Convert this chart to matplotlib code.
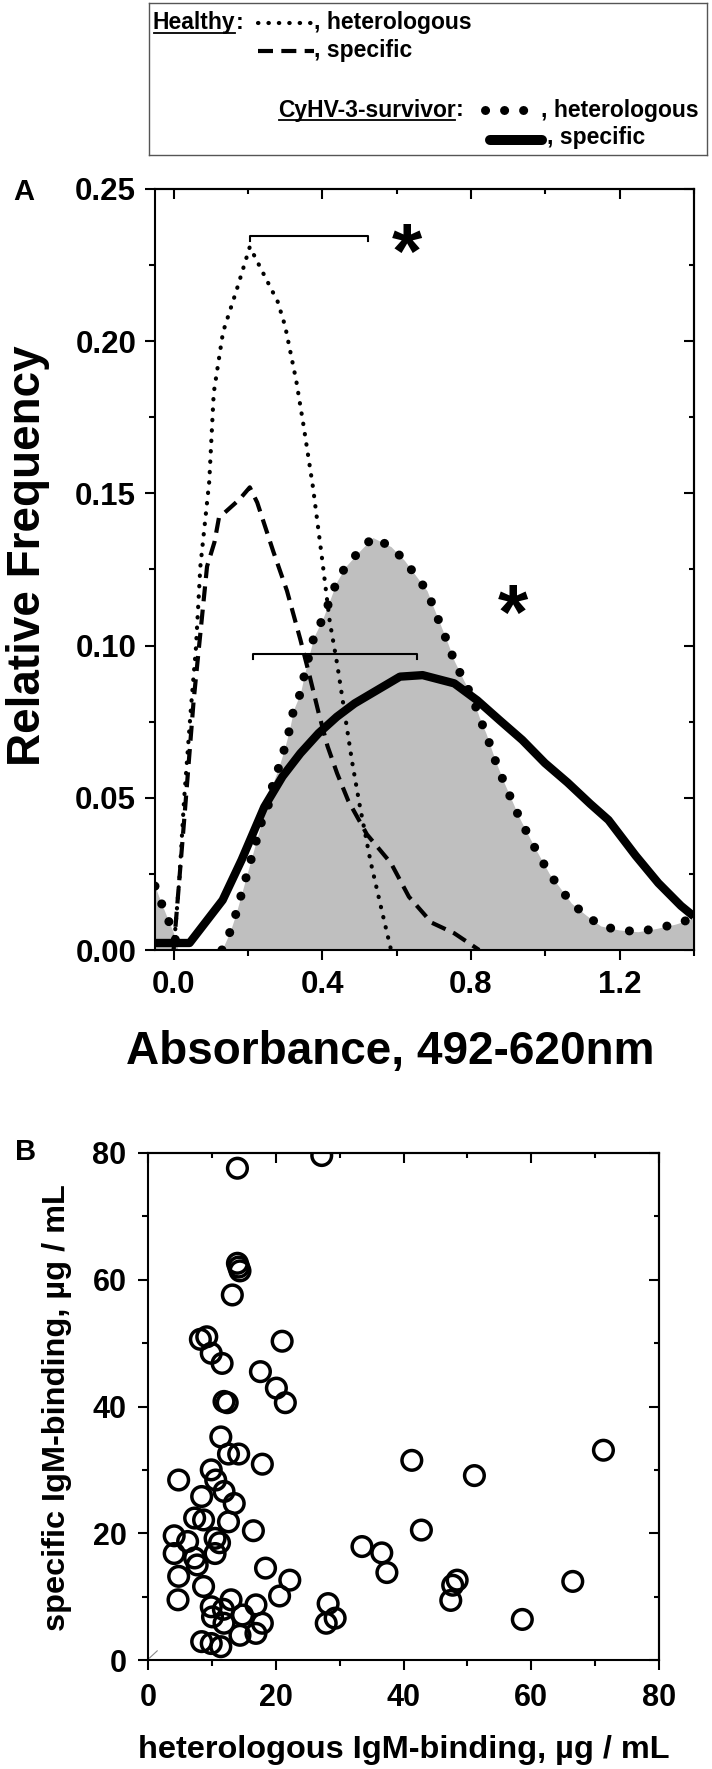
import matplotlib
matplotlib.use("Agg")
import matplotlib.pyplot as plt
from matplotlib.ticker import MultipleLocator, FormatStrFormatter, NullFormatter

plt.rcParams["font.family"] = ["Liberation Sans", "DejaVu Sans"]
plt.rcParams["font.weight"] = "bold"

# ---- panel A: relative frequency of absorbance values ----
# healthy carp, heterologous antigen (fine dotted)
healthy_het_x = [0.0, 0.016, 0.028, 0.047, 0.06, 0.072, 0.096, 0.108, 0.133, 0.17, 0.195,
                 0.205, 0.23, 0.28, 0.30, 0.33, 0.35, 0.375, 0.40, 0.42, 0.44, 0.46,
                 0.48, 0.50, 0.53, 0.56, 0.585]
healthy_het_y = [0.0, 0.024, 0.049, 0.080, 0.099, 0.126, 0.154, 0.183, 0.203, 0.217, 0.227,
                 0.231, 0.225, 0.213, 0.205, 0.187, 0.172, 0.152, 0.128, 0.108, 0.094, 0.078,
                 0.062, 0.048, 0.029, 0.013, 0.0]

# healthy carp, specific antigen (dashed)
healthy_spec_x = [0.0, 0.01, 0.03, 0.054, 0.072, 0.09, 0.11, 0.122, 0.177, 0.205, 0.225,
                  0.268, 0.305, 0.341, 0.366, 0.39, 0.414, 0.44, 0.47, 0.52, 0.585, 0.633,
                  0.694, 0.755, 0.822]
healthy_spec_y = [0.0, 0.015, 0.045, 0.082, 0.104, 0.126, 0.134, 0.142, 0.148, 0.152, 0.147,
                  0.131, 0.118, 0.102, 0.090, 0.078, 0.067, 0.058, 0.049, 0.038, 0.0285, 0.0175,
                  0.009, 0.0055, 0.0]

# CyHV-3 survivors, heterologous antigen (big dots, grey area)
surv_het_left_x = [-0.05, -0.038, -0.02, 0.0, 0.012]
surv_het_left_y = [0.021, 0.017, 0.0115, 0.0056, 0.0]
surv_het_x = [0.13, 0.152, 0.168, 0.20, 0.238, 0.256, 0.268, 0.283, 0.298, 0.311, 0.323,
              0.341, 0.353, 0.366, 0.378, 0.402, 0.439, 0.463, 0.50, 0.536, 0.585, 0.621,
              0.682, 0.701, 0.737, 0.755, 0.78, 0.804, 0.822, 0.841, 0.865, 0.889, 0.914,
              0.932, 0.97, 1.011, 1.036, 1.07, 1.109, 1.149, 1.198, 1.249, 1.30, 1.35, 1.40]
surv_het_y = [0.0, 0.006, 0.012, 0.026, 0.0427, 0.048, 0.055, 0.060, 0.066, 0.072, 0.079,
              0.0843, 0.091, 0.0975, 0.103, 0.109, 0.121, 0.126, 0.131, 0.1355, 0.1325, 0.128,
              0.118, 0.112, 0.101, 0.095, 0.0887, 0.083, 0.0766, 0.071, 0.0624, 0.055, 0.048,
              0.043, 0.034, 0.025, 0.021, 0.0154, 0.0115, 0.0079, 0.0066, 0.006, 0.0071, 0.0085,
              0.0105]

# CyHV-3 survivors, specific antigen (thick solid)
surv_spec_x = [-0.05, 0.043, 0.132, 0.183, 0.244, 0.293, 0.341, 0.39, 0.439, 0.487, 0.548,
               0.609, 0.67, 0.755, 0.817, 0.877, 0.938, 0.999, 1.06, 1.121, 1.17, 1.243,
               1.304, 1.365, 1.40]
surv_spec_y = [0.0023, 0.0023, 0.0164, 0.0296, 0.047, 0.057, 0.0646, 0.0712, 0.0766, 0.081,
               0.0854, 0.0898, 0.0903, 0.0876, 0.082, 0.0755, 0.069, 0.0614, 0.055, 0.048,
               0.0427, 0.031, 0.022, 0.0145, 0.011]

# horizontal bars (x from, x to, y) and significance stars
bar_healthy = (0.205, 0.524, 0.2345)
bar_survivor = (0.213, 0.656, 0.0972)
star_x = [0.628, 0.914]
star_y = [0.2316, 0.113]

# ---- panel B: specific vs heterologous IgM binding ----
het_igm = [14.0, 27.2, 14.0, 14.2, 14.4, 13.2, 8.2, 9.2, 9.9, 11.6, 21.0, 17.6, 20.1, 21.5,
           11.9, 12.4, 11.4, 12.6, 14.2, 17.9, 9.9, 10.6, 4.8, 41.3, 51.1, 71.3, 11.9, 13.5,
           8.4, 7.3, 8.7, 12.6, 16.5, 4.1, 6.2, 10.5, 11.2, 4.1, 7.3, 7.7, 10.5, 18.4, 4.8,
           8.7, 22.2, 20.6, 4.7, 13.0, 16.9, 9.9, 11.8, 10.1, 14.8, 17.9, 16.9, 11.9, 14.4,
           8.4, 9.9, 11.4, 28.2, 29.3, 27.9, 33.5, 36.6, 37.4, 42.8, 48.4, 47.7, 47.4, 58.6,
           66.5]
spec_igm = [77.6, 79.6, 62.6, 62.0, 61.4, 57.6, 50.6, 51.0, 48.4, 46.8, 50.3, 45.5, 42.9, 40.6,
            40.8, 40.6, 35.2, 32.5, 32.5, 30.9, 30.0, 28.4, 28.4, 31.5, 29.1, 33.1, 26.6, 24.7,
            25.8, 22.4, 22.1, 21.8, 20.4, 19.6, 18.7, 19.2, 18.5, 16.8, 16.1, 15.0, 16.8, 14.5,
            13.2, 11.6, 12.6, 10.1, 9.5, 9.5, 8.7, 8.4, 8.0, 6.8, 7.1, 5.8, 4.2, 5.8, 3.9,
            2.9, 2.6, 2.1, 8.9, 6.6, 5.8, 17.9, 16.9, 13.8, 20.5, 12.6, 11.8, 9.4, 6.4, 12.4]

W, H = 712, 1769
fig = plt.figure(figsize=(W / 100, H / 100), dpi=100)


def px_box(x0, y0, x1, y1):
    # pixel box (top-left origin) -> figure fraction rect
    return [x0 / W, 1 - y1 / H, (x1 - x0) / W, (y1 - y0) / H]


ax_a = fig.add_axes(px_box(155, 189, 694, 950))
ax_b = fig.add_axes(px_box(148, 1153, 659, 1660))
ax_leg = fig.add_axes(px_box(149, 3, 707, 155))

hh_style = dict(color="black", lw=3.0, linestyle=(0, (0.1, 2.4)), dash_capstyle="round")
hs_style = dict(color="black", lw=3.0, linestyle=(0, (3.6, 2.0)))
sh_style = dict(color="black", lw=6.5, linestyle=(0, (0.01, 2.1)), dash_capstyle="round")
ss_style = dict(color="black", lw=6.0, solid_capstyle="butt")


def style_axis(ax, xmaj, xmin, ymaj, ymin, size, xpad, ypad, majlen, minlen):
    for s in ax.spines.values():
        s.set_linewidth(1.5)
    ax.xaxis.set_major_locator(MultipleLocator(xmaj))
    ax.xaxis.set_minor_locator(MultipleLocator(xmin))
    ax.yaxis.set_major_locator(MultipleLocator(ymaj))
    ax.yaxis.set_minor_locator(MultipleLocator(ymin))
    ax.tick_params(which="both", direction="out", width=1.5, labelsize=size)
    ax.tick_params(which="major", length=majlen)
    ax.tick_params(which="minor", length=minlen)
    ax.tick_params(axis="x", pad=xpad)
    ax.tick_params(axis="y", pad=ypad)
    # mirrored ticks pointing inwards on top and right
    top = ax.secondary_xaxis("top")
    right = ax.secondary_yaxis("right")
    for sec, axis, step_maj, step_min in ((top, top.xaxis, xmaj, xmin),
                                          (right, right.yaxis, ymaj, ymin)):
        axis.set_major_locator(MultipleLocator(step_maj))
        axis.set_minor_locator(MultipleLocator(step_min))
        axis.set_major_formatter(NullFormatter())
        sec.tick_params(which="both", direction="in", width=1.5)
        sec.tick_params(which="major", length=majlen)
        sec.tick_params(which="minor", length=minlen * 0.8)
        for s in sec.spines.values():
            s.set_linewidth(1.5)


# ---- panel A ----
ax_a.fill_between(surv_het_left_x, 0, surv_het_left_y, color="#bfbfbf", lw=0, zorder=1)
ax_a.fill_between(surv_het_x, 0, surv_het_y, color="#bfbfbf", lw=0, zorder=1)
ax_a.plot(healthy_het_x, healthy_het_y, zorder=3, **hh_style)
ax_a.plot(healthy_spec_x, healthy_spec_y, zorder=3, **hs_style)
ax_a.plot(surv_spec_x, surv_spec_y, zorder=4, **ss_style)
ax_a.plot(surv_het_left_x, surv_het_left_y, zorder=5, **sh_style)
ax_a.plot(surv_het_x, surv_het_y, zorder=5, **sh_style)

cap = 0.0015
for x0, x1, y in (bar_healthy, bar_survivor):
    ax_a.plot([x0, x0, x1, x1], [y - cap, y, y, y - cap], color="black", lw=1.5, zorder=6)
for sx, sy in zip(star_x, star_y):
    ax_a.annotate("*", xy=(sx, sy), xytext=(0, -9), textcoords="offset points",
                  ha="center", va="center", fontsize=56, fontweight="bold")

ax_a.set_xlim(-0.05, 1.4)
ax_a.set_ylim(0, 0.25)
style_axis(ax_a, 0.4, 0.2, 0.05, 0.025, 22.5, 7, 6, 7.5, 4.5)
ax_a.xaxis.set_major_formatter(FormatStrFormatter("%.1f"))
ax_a.yaxis.set_major_formatter(FormatStrFormatter("%.2f"))

fig.text(390 / W, 1 - 1064 / H, "Absorbance, 492-620nm", ha="center", va="baseline",
         fontsize=33, fontweight="bold")
fig.text(6 / W, 1 - 556 / H, "Relative Frequency", rotation=90, ha="left", va="center",
         fontsize=33, fontweight="bold")
fig.text(13 / W, 1 - 200 / H, "A", ha="left", va="baseline", fontsize=21, fontweight="bold")

# ---- panel B ----
ax_b.scatter(het_igm, spec_igm, s=200, facecolors="none", edgecolors="black",
             linewidths=2.5, zorder=3)
ax_b.plot([0.003, 0.018], [0.004, 0.018], transform=ax_b.transAxes, color="#888888", lw=0.8)
ax_b.set_xlim(0, 80)
ax_b.set_ylim(0, 80)
style_axis(ax_b, 20, 10, 20, 10, 22, 9, 8, 7.5, 4.5)

fig.text(404 / W, 1 - 1758 / H, "heterologous IgM-binding, µg / mL", ha="center",
         va="baseline", fontsize=23.4, fontweight="bold")
fig.text(42 / W, 1 - 1408 / H, "specific IgM-binding, µg / mL", rotation=90, ha="left",
         va="center", fontsize=23.4, fontweight="bold")
fig.text(15 / W, 1 - 1160 / H, "B", ha="left", va="baseline", fontsize=21, fontweight="bold")

# ---- legend box ----
ax_leg.set_xlim(149, 707)
ax_leg.set_ylim(155, 3)
ax_leg.set_xticks([])
ax_leg.set_yticks([])
for s in ax_leg.spines.values():
    s.set_linewidth(1.0)
    s.set_color("#555555")

leg_kw = dict(fontsize=16.5, fontweight="bold", va="baseline")
t_healthy = ax_leg.text(153, 29, "Healthy", **leg_kw)
ax_leg.annotate(":", xy=(1, 0), xycoords=t_healthy, va="bottom", fontsize=16.5,
                fontweight="bold")
ax_leg.plot([258, 314], [23, 23], **hh_style)
ax_leg.text(314, 29, ", heterologous", **leg_kw)
ax_leg.plot([258, 314], [51, 51], **hs_style)
ax_leg.text(314, 57, ", specific", **leg_kw)

t_surv = ax_leg.text(278, 116.5, "CyHV-3-survivor", **leg_kw)
ax_leg.annotate(":", xy=(1, 0), xycoords=t_surv, va="bottom", fontsize=16.5,
                fontweight="bold")
ax_leg.plot([485, 527], [110, 110], **sh_style)
ax_leg.text(541, 116.5, ", heterologous", **leg_kw)
ax_leg.plot([490, 542], [140, 140], color="black", lw=7.2, solid_capstyle="round")
ax_leg.text(547, 144.3, ", specific", **leg_kw)

# underline the two group names
fig.canvas.draw()
inv = ax_leg.transData.inverted()
for t, base in ((t_healthy, 29), (t_surv, 116.5)):
    bb = t.get_window_extent()
    (x0, _), (x1, _) = inv.transform([[bb.x0, bb.y0], [bb.x1, bb.y1]])
    ax_leg.plot([x0 + 1, x1 - 1], [base + 4, base + 4], color="black", lw=1.3)

fig.savefig("out.png", dpi=100)
